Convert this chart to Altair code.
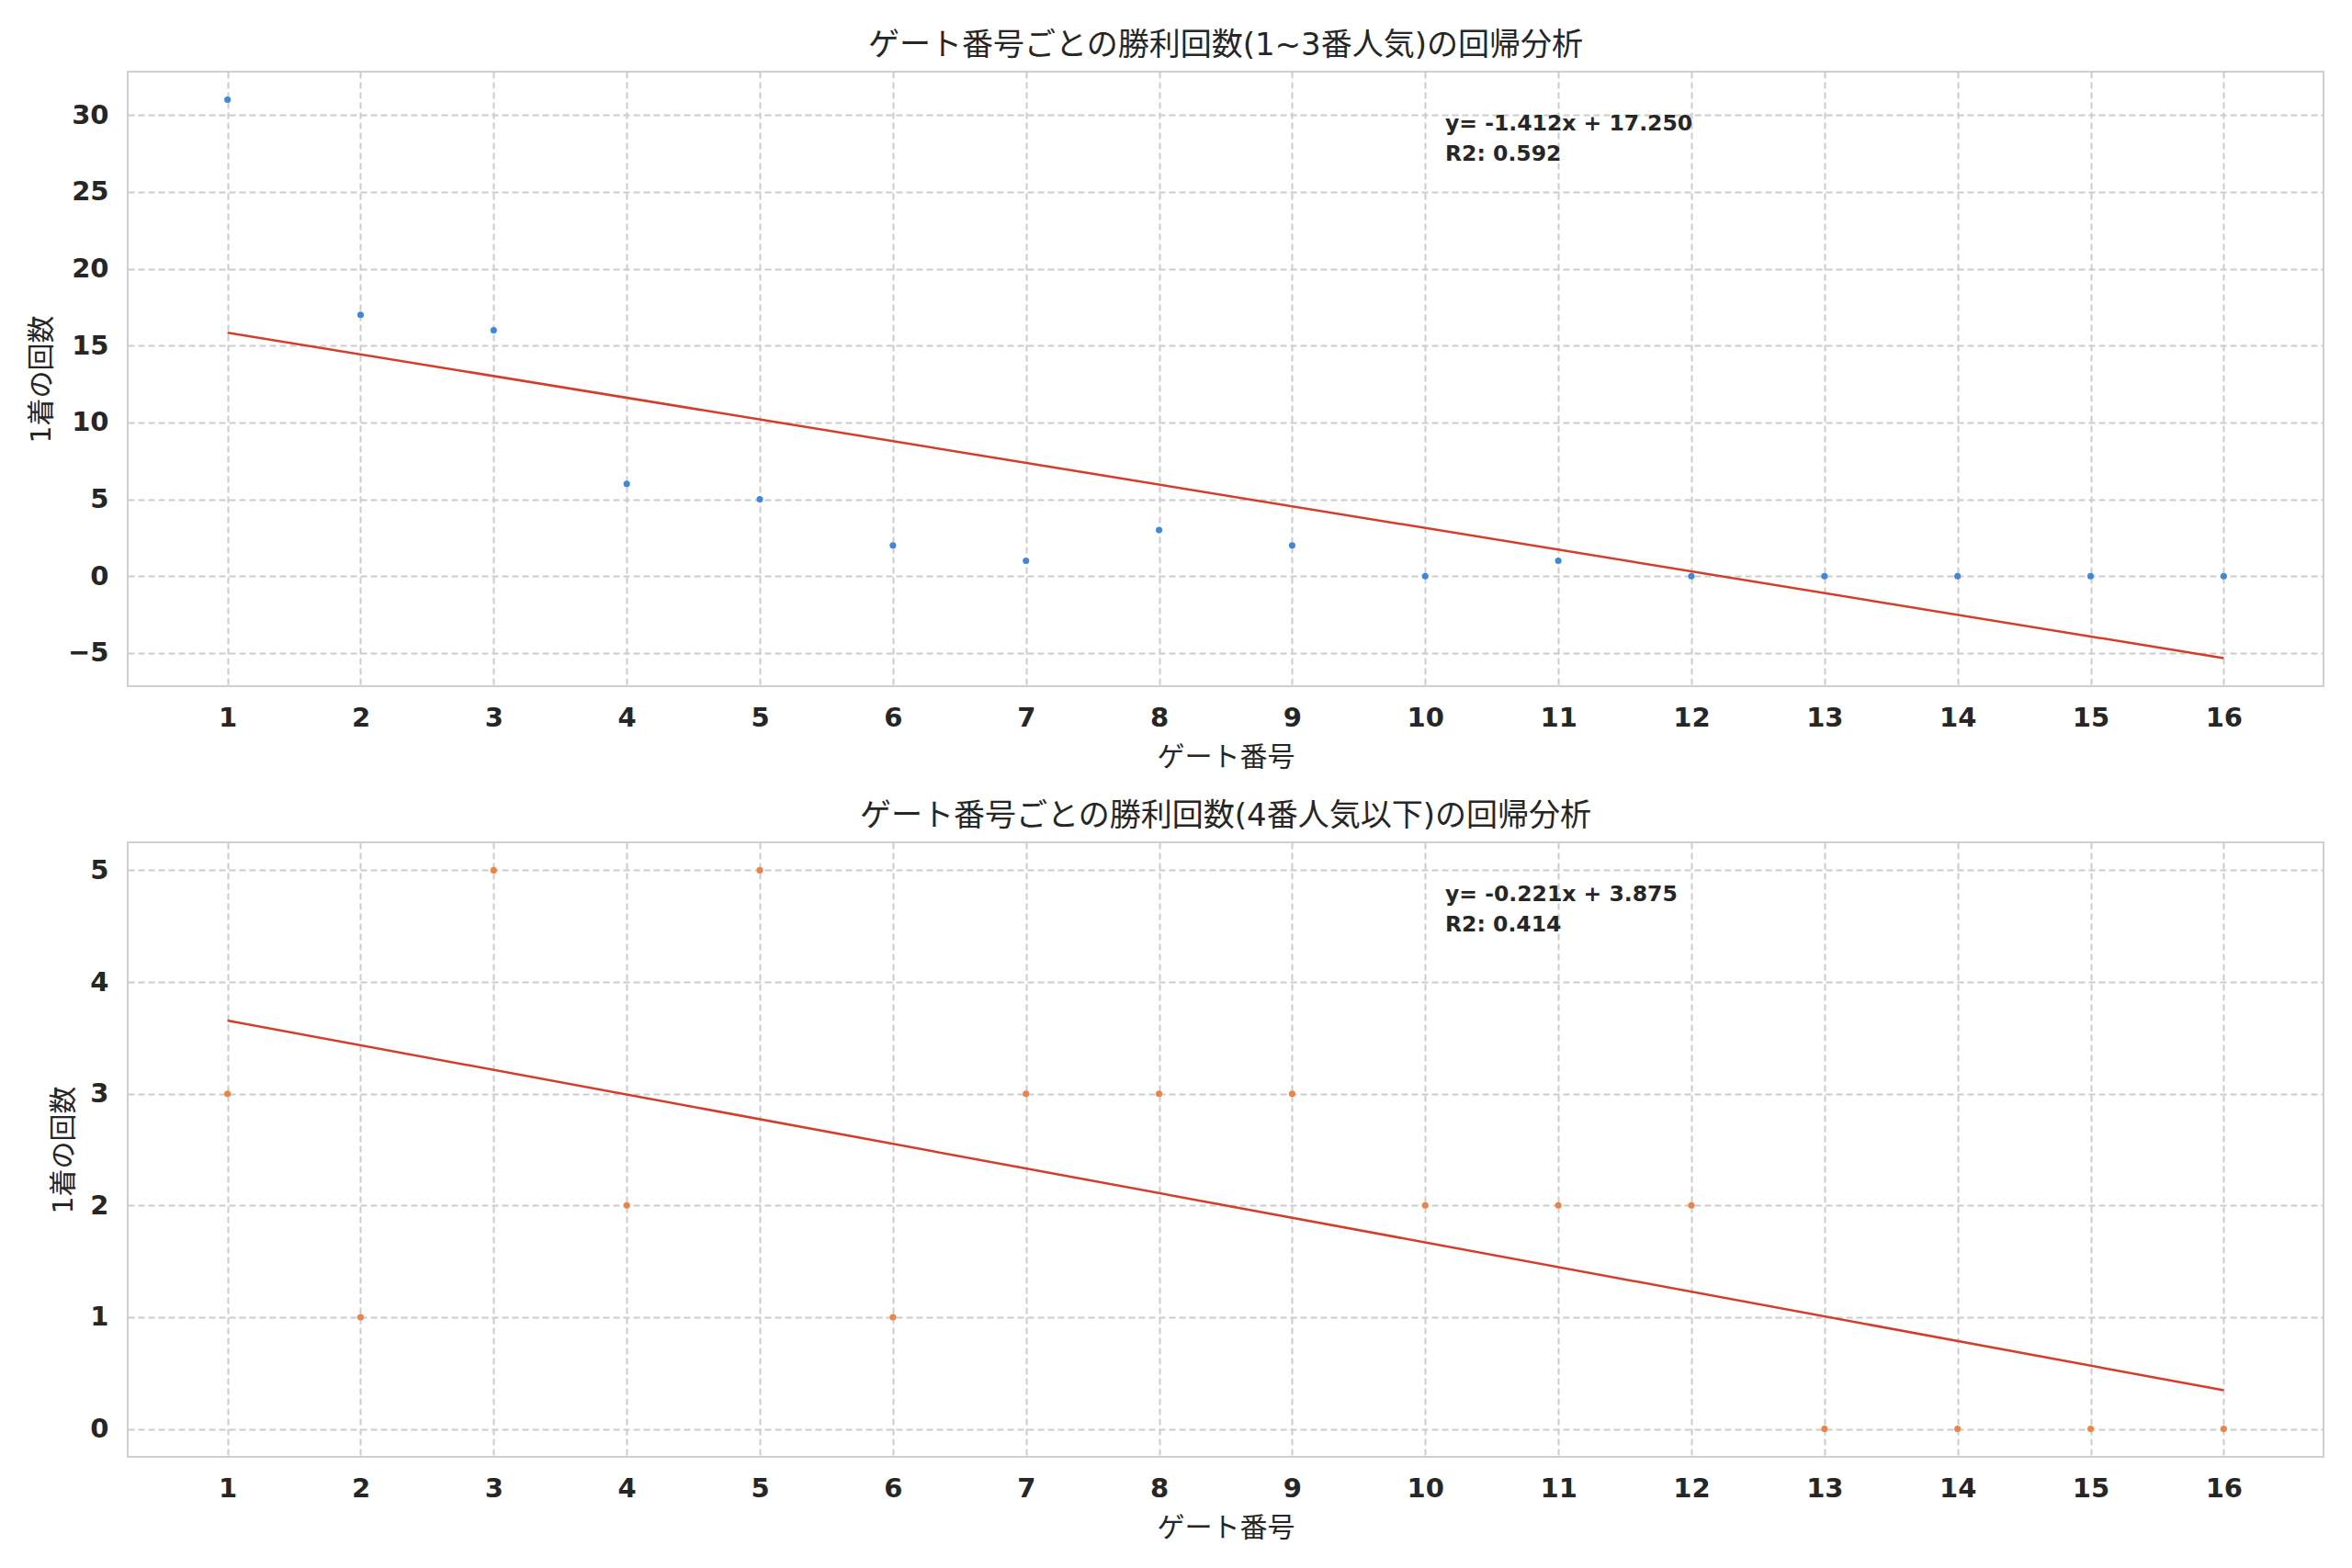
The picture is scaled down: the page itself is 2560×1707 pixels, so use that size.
import altair as alt
import pandas as pd
import numpy as np

# ---- data ----
gate_numbers = list(range(1, 17))
wins_top3_popular = [31, 17, 16, 6, 5, 2, 1, 3, 2, 0, 1, 0, 0, 0, 0, 0]
wins_4th_or_lower = [3, 1, 5, 2, 5, 1, 3, 3, 3, 2, 2, 2, 0, 0, 0, 0]

title_top = "ゲート番号ごとの勝利回数(1~3番人気)の回帰分析"
title_bottom = "ゲート番号ごとの勝利回数(4番人気以下)の回帰分析"
x_title = "ゲート番号"
y_title = "1着の回数"

top_ticks = [-5, 0, 5, 10, 15, 20, 25, 30]
bottom_ticks = [0, 1, 2, 3, 4, 5]

FONT = "DejaVu Sans, Noto Sans CJK JP, sans-serif"
TEXT = "#262626"
W, H = 2390, 669


def panel(counts, title, color, ydom, yticks, title_pad):
    df = pd.DataFrame({"x": gate_numbers, "y": counts})
    slope, intercept = np.polyfit(gate_numbers, counts, 1)
    pred = slope * np.array(gate_numbers) + intercept
    y = np.array(counts, dtype=float)
    r2 = 1 - ((y - pred) ** 2).sum() / ((y - y.mean()) ** 2).sum()
    label = f"y= {slope:.3f}x + {intercept:.3f}\nR2: {r2:.3f}"

    xenc = alt.X(
        "x:Q",
        scale=alt.Scale(domain=[0.25, 16.75], nice=False, zero=False),
        axis=alt.Axis(values=gate_numbers, format="d", title=x_title),
    )
    yenc = alt.Y(
        "y:Q",
        scale=alt.Scale(domain=ydom, nice=False, zero=False),
        axis=alt.Axis(
            values=yticks,
            format="d",
            title=y_title,
            titlePadding=title_pad,
            labelExpr="replace(datum.label, '-', '\u2212')",
        ),
    )
    base = alt.Chart(df)
    pts = base.mark_circle(size=50, color=color, opacity=1).encode(x=xenc, y=yenc)
    line = (
        base.transform_regression("x", "y")
        .mark_line(color="#d33d2a", strokeWidth=2.5)
        .encode(x="x:Q", y="y:Q")
    )
    txt = (
        alt.Chart(pd.DataFrame({"t": [label]}))
        .mark_text(
            align="left",
            baseline="top",
            lineBreak="\n",
            fontWeight="bold",
            fontSize=23.5,
            lineHeight=33,
            color=TEXT,
            font="DejaVu Sans",
        )
        .encode(x=alt.value(0.6 * W), y=alt.value(45), text="t:N")
    )
    return alt.layer(pts, line, txt).properties(
        width=W,
        height=H,
        title=alt.TitleParams(
            title, fontSize=34, font=FONT, fontWeight="normal", color=TEXT, offset=11
        ),
    )


top = panel(wins_top3_popular, title_top, "#3f88d8", [-7.16, 32.82], top_ticks, 13)
bottom = panel(wins_4th_or_lower, title_bottom, "#ea8449", [-0.25, 5.25], bottom_ticks, 13)

chart = (
    alt.vconcat(top, bottom, spacing=31)
    .properties(padding={"left": 21, "top": 24, "right": 10, "bottom": 10})
    .configure(background="white")
    .configure_view(stroke="#cfcfcf", strokeWidth=2)
    .configure_axis(
        grid=True,
        gridColor="#cccccc",
        gridDash=[7, 4],
        gridWidth=2,
        domain=False,
        ticks=False,
        tickSize=0,
        labelFont="DejaVu Sans",
        labelFontWeight="bold",
        labelFontSize=29,
        labelColor=TEXT,
        labelPadding=20,
        titleFont=FONT,
        titleFontWeight="normal",
        titleFontSize=30,
        titleColor=TEXT,
        titlePadding=13,
    )
    .configure_axisY(labelPadding=21)
)

chart.save("out.html", embed_options={"renderer": "svg", "actions": False})
